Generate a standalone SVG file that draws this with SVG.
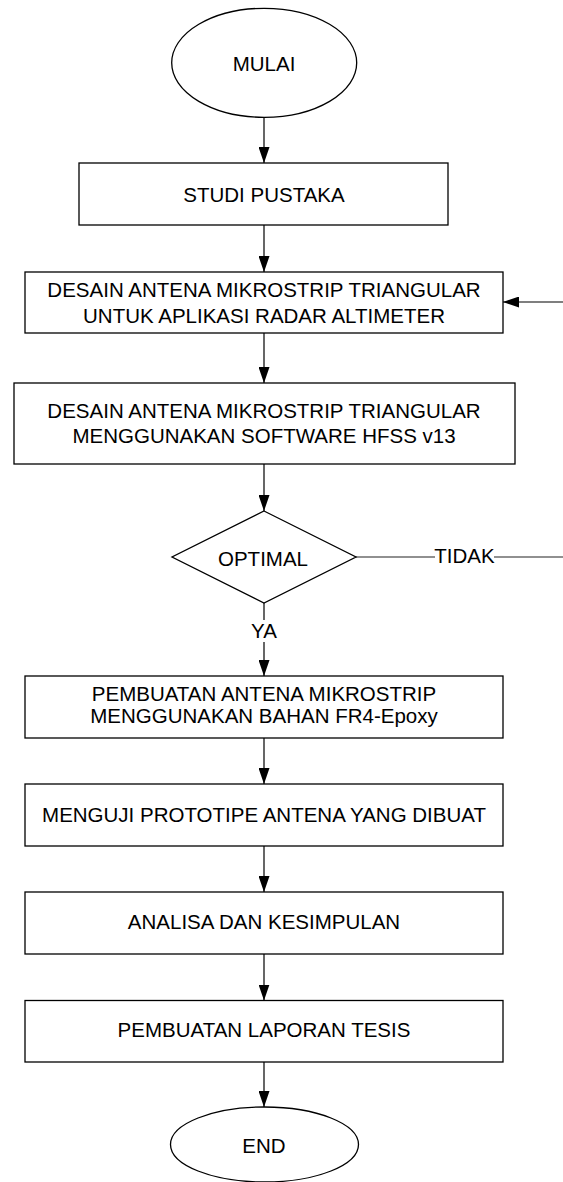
<svg xmlns="http://www.w3.org/2000/svg" width="563" height="1182" viewBox="0 0 563 1182">
<defs>
<style>
.n{fill:#fff;stroke:#000;stroke-width:1.3}
.t{font-family:"Liberation Sans",Arial,sans-serif;font-size:20.5px;fill:#000;text-anchor:middle}
.c{fill:none;stroke:#000;stroke-width:1.2}
.g{fill:none;stroke:#222;stroke-width:1.2}
</style>
<marker id="ah" viewBox="0 0 16 11" refX="16" refY="5.5" markerWidth="16" markerHeight="11" markerUnits="userSpaceOnUse" orient="auto">
<path d="M0,0 L16,5.5 L0,11 Z" fill="#000"/>
</marker>
</defs>
<rect width="563" height="1182" fill="#fff"/>
<g id="connectors">
<line class="c" x1="264" y1="117" x2="264" y2="163" marker-end="url(#ah)"/>
<line class="c" x1="264" y1="225" x2="264" y2="272" marker-end="url(#ah)"/>
<line class="c" x1="264" y1="333" x2="264" y2="383" stroke-width="2" marker-end="url(#ah)"/>
<line class="c" x1="264" y1="464" x2="264" y2="511" marker-end="url(#ah)"/>
<line class="c" x1="264" y1="603" x2="264" y2="620"/>
<line class="c" x1="264" y1="642" x2="264" y2="676" marker-end="url(#ah)"/>
<line class="c" x1="264" y1="738" x2="264" y2="784" marker-end="url(#ah)"/>
<line class="c" x1="264" y1="846" x2="264" y2="892" marker-end="url(#ah)"/>
<line class="c" x1="264" y1="954" x2="264" y2="1000.5" marker-end="url(#ah)"/>
<line class="c" x1="264" y1="1062" x2="264" y2="1107" marker-end="url(#ah)"/>
<line class="g" x1="356" y1="557" x2="435" y2="557"/>
<line class="g" x1="494" y1="557" x2="563" y2="557"/>
<line class="c" x1="563" y1="302" x2="503" y2="302" marker-end="url(#ah)"/>
<text class="t" x="264" y="638">YA</text>
<text class="t" x="464.5" y="563">TIDAK</text>
</g>
<g id="mulai">
<ellipse class="n" cx="264.2" cy="62.8" rx="92.5" ry="54.5"/>
<text class="t" x="264" y="70.5">MULAI</text>
</g>
<g id="studi">
<rect class="n" x="79" y="163" width="369" height="62"/>
<text class="t" x="264" y="201.5">STUDI PUSTAKA</text>
</g>
<g id="desain1">
<rect class="n" x="25" y="272" width="478" height="61"/>
<text class="t" x="264" y="297.3">DESAIN ANTENA MIKROSTRIP TRIANGULAR</text>
<text class="t" x="264" y="323.3">UNTUK APLIKASI RADAR ALTIMETER</text>
</g>
<g id="desain2">
<rect class="n" x="14" y="383" width="501" height="81"/>
<text class="t" x="264" y="418.3">DESAIN ANTENA MIKROSTRIP TRIANGULAR</text>
<text class="t" x="264" y="443.3">MENGGUNAKAN SOFTWARE HFSS v13</text>
</g>
<g id="optimal">
<polygon class="n" points="264,511 356,557 264,603 172,557"/>
<text class="t" x="263" y="565.5">OPTIMAL</text>
</g>
<g id="pembuatan">
<rect class="n" x="25" y="676" width="478" height="62"/>
<text class="t" x="264" y="700.5">PEMBUATAN ANTENA MIKROSTRIP</text>
<text class="t" x="264" y="723">MENGGUNAKAN BAHAN FR4-Epoxy</text>
</g>
<g id="menguji">
<rect class="n" x="25" y="784" width="478" height="62"/>
<text class="t" x="264" y="821.7">MENGUJI PROTOTIPE ANTENA YANG DIBUAT</text>
</g>
<g id="analisa">
<rect class="n" x="25" y="892" width="478" height="62"/>
<text class="t" x="264" y="929.3">ANALISA DAN KESIMPULAN</text>
</g>
<g id="laporan">
<rect class="n" x="25" y="1000.5" width="478" height="61.5"/>
<text class="t" x="264" y="1037.3">PEMBUATAN LAPORAN TESIS</text>
</g>
<g id="end">
<ellipse class="n" cx="264.5" cy="1144.5" rx="94" ry="37.5"/>
<text class="t" x="264" y="1153.3">END</text>
</g>
</svg>
